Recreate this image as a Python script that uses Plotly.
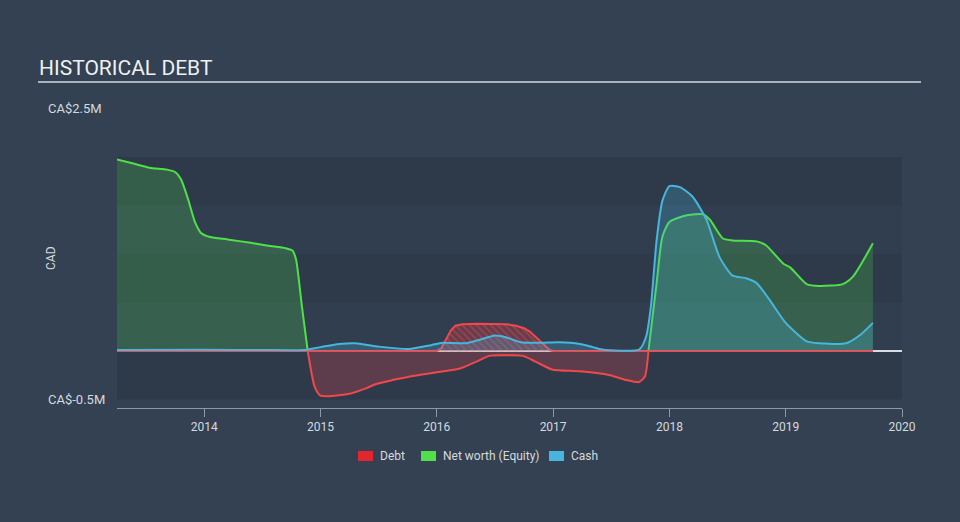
import plotly.graph_objects as go

# ---------------- data (CA$ millions, decimal years) ----------------
equity_dates = [2013.25, 2013.4, 2013.53, 2013.68, 2013.75, 2013.8, 2013.86, 2013.92, 2013.97,
                2014.05, 2014.2, 2014.4, 2014.55, 2014.7, 2014.76, 2014.79, 2014.84, 2014.89,
                2014.95, 2015.0, 2015.25, 2015.39, 2015.48, 2015.62, 2015.76, 2016.0, 2016.2,
                2016.34, 2016.45, 2016.6, 2016.74, 2016.85, 2016.99, 2017.23, 2017.49, 2017.63,
                2017.74, 2017.79, 2017.82, 2017.89, 2017.94, 2018.0, 2018.15, 2018.29, 2018.35,
                2018.46, 2018.54, 2018.75, 2018.83, 2018.98, 2019.04, 2019.18, 2019.29, 2019.49,
                2019.58, 2019.75]
equity_values = [1.975, 1.93, 1.89, 1.87, 1.845, 1.77, 1.57, 1.33, 1.22,
                 1.175, 1.15, 1.115, 1.085, 1.06, 1.035, 0.94, 0.46, 0.0,
                 -0.37, -0.46, -0.44, -0.385, -0.34, -0.30, -0.265, -0.22, -0.18,
                 -0.11, -0.05, -0.045, -0.05, -0.11, -0.19, -0.21, -0.25, -0.30,
                 -0.32, -0.26, 0.0, 0.70, 1.18, 1.33, 1.40, 1.41, 1.35,
                 1.16, 1.14, 1.13, 1.09, 0.90, 0.86, 0.69, 0.67, 0.69,
                 0.77, 1.11]

cash_dates = [2013.25, 2014.0, 2014.5, 2014.85, 2015.0, 2015.16, 2015.3, 2015.5, 2015.76,
              2015.95, 2016.05, 2016.25, 2016.35, 2016.5, 2016.6, 2016.72, 2016.9, 2017.05,
              2017.23, 2017.34, 2017.42, 2017.74, 2017.8, 2017.84, 2017.89, 2017.94, 2018.0,
              2018.09, 2018.2, 2018.32, 2018.43, 2018.54, 2018.66, 2018.75, 2018.86, 2019.0,
              2019.18, 2019.29, 2019.52, 2019.64, 2019.75]
cash_values = [0.01, 0.012, 0.01, 0.01, 0.04, 0.072, 0.08, 0.045, 0.02,
               0.06, 0.085, 0.08, 0.11, 0.16, 0.14, 0.09, 0.085, 0.09,
               0.072, 0.04, 0.015, 0.015, 0.15, 0.45, 1.14, 1.55, 1.70,
               1.69, 1.59, 1.35, 0.97, 0.78, 0.75, 0.70, 0.53, 0.29,
               0.10, 0.08, 0.08, 0.165, 0.29]

debt_dates = [2013.25, 2016.0, 2016.04, 2016.08, 2016.12, 2016.16, 2016.22, 2016.35, 2016.5,
              2016.6, 2016.68, 2016.75, 2016.8, 2016.86, 2016.92, 2016.97, 2017.0, 2019.75]
debt_values = [0.0, 0.0, 0.03, 0.12, 0.21, 0.26, 0.275, 0.28, 0.28,
               0.275, 0.26, 0.235, 0.2, 0.13, 0.06, 0.01, 0.0, 0.0]

year_ticks = [2014, 2015, 2016, 2017, 2018, 2019, 2020]
y_label_vals = [2.5, -0.5]
y_label_text = ["CA$2.5M", "CA$-0.5M"]
band_edges = [-0.5, 0.0, 0.5, 1.0, 1.5, 2.0]
legend_names = ["Debt", "Net worth (Equity)", "Cash"]

# ---------------- styling ----------------
BG = "#334152"
BAND_DARK = "#2e3a4a"
BAND_MID = "#313e4f"
GREEN = "#4fe04a"
RED_LINE = "#f0484c"
RED = "#e3262c"
BLUE = "#48b6dc"
TEXT = "#d6dadf"
FONT = "Roboto, 'Open Sans', sans-serif"

W, H = 960, 522
L, R, T, B = 117, 58, 100, 114
PW, PH = W - L - R, H - T - B


def px_x(px):
    return (px - L) / PW


def px_y(py):
    return (H - B - py) / PH


fig = go.Figure()

eq_pos = [v if v >= 0 else None for v in equity_values]
eq_neg = [v if v <= 0 else None for v in equity_values]

fig.add_trace(go.Scatter(
    x=equity_dates, y=eq_pos, mode="lines", line=dict(color=GREEN, width=2, shape="spline", smoothing=0.6),
    fill="tozeroy", fillcolor="rgba(77,225,77,0.22)", connectgaps=False, showlegend=False, hoverinfo="skip"))
fig.add_trace(go.Scatter(
    x=equity_dates, y=eq_neg, mode="lines", line=dict(color=RED_LINE, width=2, shape="spline", smoothing=0.6),
    fill="tozeroy", fillcolor="rgba(235,70,80,0.25)", connectgaps=False, showlegend=False, hoverinfo="skip"))
fig.add_trace(go.Scatter(
    x=debt_dates, y=debt_values, mode="lines", line=dict(color=RED_LINE, width=2, shape="linear"),
    fill="tozeroy", fillcolor="rgba(227,38,44,0.25)",
    fillpattern=dict(shape="\\", fgcolor="rgba(240,70,76,0.75)", bgcolor="rgba(190,60,72,0.35)",
                     size=5, solidity=0.4),
    showlegend=False, hoverinfo="skip"))
fig.add_trace(go.Scatter(
    x=cash_dates, y=cash_values, mode="lines", line=dict(color=BLUE, width=2, shape="spline", smoothing=0.6),
    fill="tozeroy", fillcolor="rgba(71,184,224,0.25)", showlegend=False, hoverinfo="skip"))

# background bands
shapes = []
for i in range(len(band_edges) - 1):
    shapes.append(dict(type="rect", xref="paper", yref="y", x0=0, x1=1,
                       y0=band_edges[i], y1=band_edges[i + 1],
                       fillcolor=BAND_DARK if i % 2 == 0 else BAND_MID,
                       line=dict(width=0), layer="below"))
# title underline
shapes.append(dict(type="line", xref="paper", yref="paper", x0=px_x(38), x1=px_x(921),
                   y0=px_y(82), y1=px_y(82), line=dict(color="#aab2bb", width=2)))

annotations = [
    dict(text="HISTORICAL DEBT", xref="paper", yref="paper", x=px_x(37), y=px_y(68),
         xanchor="left", yanchor="middle", showarrow=False, font=dict(family=FONT, size=21, color="#eef0f2")),
    dict(text="CAD", xref="paper", yref="paper", x=px_x(51), y=px_y(258), textangle=-90,
         xanchor="center", yanchor="middle", showarrow=False, font=dict(family=FONT, size=12, color=TEXT)),
]
for v, t in zip(y_label_vals, y_label_text):
    annotations.append(dict(text=t, xref="paper", yref="y", x=px_x(46), y=v, xanchor="left",
                            yanchor="middle", showarrow=False, font=dict(family=FONT, size=13, color=TEXT)))

# custom legend
leg_colors = [RED, GREEN, BLUE]
leg_sq_x = [358, 421, 549]
for name, col, sx in zip(legend_names, leg_colors, leg_sq_x):
    shapes.append(dict(type="rect", xref="paper", yref="paper", x0=px_x(sx), x1=px_x(sx + 15),
                       y0=px_y(461), y1=px_y(451), fillcolor=col, line=dict(width=0)))
    annotations.append(dict(text=name, xref="paper", yref="paper", x=px_x(sx + 20), y=px_y(456),
                            xanchor="left", yanchor="middle", showarrow=False,
                            font=dict(family=FONT, size=12, color=TEXT)))

fig.update_layout(
    width=W, height=H, margin=dict(l=L, r=R, t=T, b=B),
    paper_bgcolor=BG, plot_bgcolor=BG,
    shapes=shapes, annotations=annotations, showlegend=False,
    xaxis=dict(range=[2013.25, 2020.0], tickvals=year_ticks, ticktext=[str(y) for y in year_ticks],
               showgrid=False, zeroline=False, showline=True, linecolor="#8d99a6", linewidth=1,
               ticks="outside", ticklen=8, tickcolor="#8d99a6",
               tickfont=dict(family=FONT, size=12, color=TEXT)),
    yaxis=dict(range=[(351 - 408) / 97, (351 - 100) / 97], showgrid=False, showticklabels=False,
               zeroline=True, zerolinecolor="#d8dce0", zerolinewidth=1.5, showline=False),
)

fig.write_html("out.html")
